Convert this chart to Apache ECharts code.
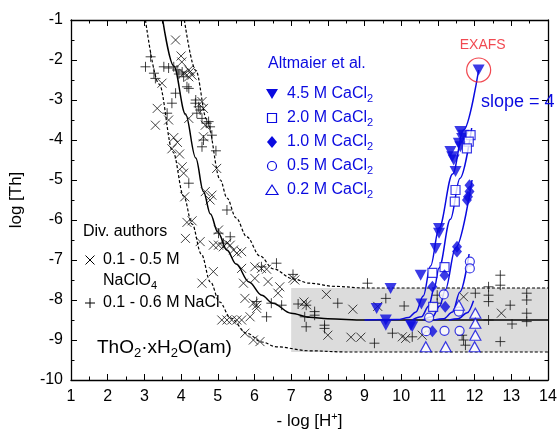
<!DOCTYPE html>
<html><head><meta charset="utf-8">
<script src="https://cdn.jsdelivr.net/npm/echarts@6/dist/echarts.min.js"></script>
<style>html,body{margin:0;padding:0;background:#fff}#c{width:560px;height:437px}</style>
</head><body><div id="c"></div>
<script>
// ---------- data ----------
const xRange = [1, 14];
const yRange = [-10, -1];
const bandX = [7, 14];
const bandY = [-9.3, -7.7];

// Div. authors, 0.1-0.5 M NaClO4 (x markers)
const naclo4 = [
[3.85,-1.5],[4.0,-1.9],[4.02,-2.05],[3.48,-2.58],[4.07,-2.33],[4.21,-2.25],[4.21,-2.42],[4.25,-2.29],[4.30,-2.38],
[3.35,-3.21],[3.30,-3.63],[3.66,-3.5],[4.21,-3.46],[4.57,-3.04],[4.61,-3.21],[4.66,-3.63],
[3.80,-3.94],[3.90,-4.06],[3.75,-4.22],[3.96,-4.35],[4.03,-4.67],[4.07,-4.83],[4.61,-3.92],[4.97,-4.71],
[4.10,-5.42],[4.66,-5.29],[4.84,-5.38],[4.79,-5.5],
[4.16,-6.06],[4.30,-6.02],[4.12,-6.46],[5.02,-6.25],[4.52,-6.54],[4.57,-7.58],[4.88,-7.29],
[4.88,-6.63],[5.02,-6.63],[5.15,-6.67],[5.25,-6.58],[5.34,-6.63],[5.43,-6.75],[5.52,-6.83],[5.65,-6.79],
[5.65,-7.21],[6.01,-7.17],[6.19,-7.21],[6.33,-7.23],
[5.70,-7.58],[6.01,-7.46],[6.37,-7.54],[6.69,-7.67],[6.64,-7.83],
[5.74,-7.96],[5.97,-8.08],[6.06,-8.13],[6.06,-8.21],[5.88,-8.42],
[5.11,-8.5],[5.25,-8.5],[5.38,-8.5],[5.52,-8.5],[5.65,-8.5],
[5.74,-8.83],[5.97,-9.0],[6.15,-9.04],
[7.05,-7.46],[7.10,-7.5],[7.35,-8.05],[7.42,-8.12],
[7.96,-7.86],[8.68,-8.23],[8.0,-8.88],[8.63,-8.93],[8.9,-8.93],[9.36,-8.16],[10.03,-8.92],[10.12,-8.96],[10.57,-8.88],[11.70,-7.92],[12.73,-8.33]
];
// Div. authors, 0.1-0.6 M NaCl (+ markers)
const nacl = [
[3.17,-1.92],[3.03,-2.17],[3.53,-2.17],[3.66,-2.2],[3.80,-2.17],[3.89,-2.25],[4.03,-2.3],[4.07,-2.42],[3.26,-2.33],[3.30,-2.46],[3.94,-2.35],[4.16,-2.67],[4.21,-2.71],[3.85,-2.83],[3.75,-3.08],[3.62,-3.33],
[4.39,-3.08],[4.48,-3.17],[4.52,-3.25],[4.43,-3.33],[4.40,-3.0],
[4.57,-3.46],[4.70,-3.58],[4.75,-3.54],[4.79,-3.67],[4.84,-3.88],
[4.61,-4.0],[4.57,-4.17],[4.95,-4.27],
[4.21,-5.08],[5.25,-5.75],[5.34,-6.42],[5.02,-6.33],[5.15,-6.58],
[6.19,-7.17],[6.6,-7.08],[6.06,-8.04],[6.46,-8.08],[6.74,-8.13],[7.05,-7.36],[6.33,-8.42],[7.19,-8.1],[7.41,-8.13],
[7.37,-8.42],[7.41,-8.67],[7.64,-8.29],[7.64,-8.38],[7.91,-8.63],[7.91,-8.71],
[9.08,-7.58],[8.27,-8.08],[9.27,-9.08],[9.58,-7.96],[9.76,-8.83],[10.08,-8.15],[10.3,-8.92],[10.98,-7.88],[10.98,-8.08],
[12.02,-7.83],[11.66,-8.88],[11.7,-9.0],[11.75,-9.13],[12.38,-7.67],[12.38,-7.88],[12.38,-8.04],[12.70,-7.38],[12.70,-7.63],
[12.38,-8.5],[12.97,-8.13],[13.02,-8.6],[12.70,-9.04],[13.42,-7.83],[13.42,-8.0],[13.42,-8.33],[13.42,-8.54]
];
// Altmaier et al.
const ca45 = [[12.11,-2.25],[11.61,-3.79],[11.70,-3.88],[11.66,-3.96],[11.57,-4.08],[11.61,-4.17],[11.34,-4.29],[11.39,-4.42],[11.43,-4.5],[11.48,-4.79],
[11.03,-6.21],[11.03,-6.33],[10.94,-6.71],[10.53,-7.38],[10.55,-8.1],[9.71,-7.71],[9.33,-8.21],[9.58,-8.5],[9.58,-8.63],[10.30,-8.67],[10.26,-8.63]];
const ca20 = [[11.89,-3.88],[11.84,-4.04],[11.79,-4.21],[11.48,-5.25],[11.46,-5.54],[11.18,-7.18],[10.85,-7.32],[10.87,-8.17]];
const ca10 = [[11.86,-5.13],[11.86,-5.29],[11.82,-5.42],[11.79,-5.5],[11.52,-6.67],[11.52,-6.79],[11.18,-7.38],[10.85,-7.67],[11.2,-8.17],[10.85,-8.78]];
const ca05 = [[11.87,-7.04],[11.87,-7.21],[11.16,-7.86],[10.76,-8.44],[10.68,-8.78],[11.18,-8.77],[11.57,-8.29],[11.59,-8.77]];
const ca02 = [[11.57,-8.13],[12.02,-8.33],[12.02,-8.58],[12.02,-8.88],[12.0,-9.17],[10.67,-9.17],[11.21,-9.17]];
const exafs = [[12.11,-2.25]];

// curves
const solidCurve = [[3.50,-1],[3.80,-2.15],[4.12,-3.35],[4.40,-4.45],[4.61,-5.29],[4.80,-5.85],[5.0,-6.3],[5.25,-6.75],[5.5,-7.1],[5.85,-7.55],[6.2,-7.88],[6.5,-8.08],[7.0,-8.33],[7.5,-8.43],[8,-8.47],[9,-8.5],[14,-8.5]];
const upperDashed = [[4.09,-1],[4.4,-2.26],[4.7,-3.49],[5.07,-5.0],[5.25,-5.45],[5.5,-5.95],[5.79,-6.42],[6.15,-6.9],[6.51,-7.22],[7.05,-7.47],[7.5,-7.58],[8.2,-7.66],[9,-7.7],[14,-7.7]];
const lowerDashed = [[3.03,-1],[3.4,-2.6],[3.78,-4.3],[4.07,-5.4],[4.3,-6.1],[4.55,-6.85],[4.8,-7.55],[5.05,-8.05],[5.35,-8.45],[5.79,-8.83],[6.2,-9.05],[6.6,-9.17],[7.5,-9.27],[8.5,-9.3],[14,-9.3]];
const fit45 = [[9.0,-8.5],[9.9,-8.49],[10.2,-8.44],[10.4,-8.3],[10.6,-7.9],[10.8,-7.15],[11.03,-6.2],[11.4,-4.85],[11.7,-3.75],[12.11,-2.25]];
const fit20 = [[10.3,-8.5],[10.55,-8.42],[10.75,-8.15],[10.9,-7.7],[11.03,-7.2],[11.34,-5.98],[11.6,-4.96],[11.92,-3.7]];
const fit10 = [[10.6,-8.5],[10.85,-8.42],[11.05,-8.15],[11.2,-7.75],[11.48,-6.7],[11.93,-5.0]];
const fit05 = [[10.9,-8.5],[11.15,-8.47],[11.4,-8.3],[11.6,-7.8],[11.85,-6.85]];
const fit02 = [[11.3,-8.5],[11.55,-8.47],[11.8,-8.32],[11.97,-8.02]];

const legendBlue = ['4.5', '2.0', '1.0', '0.5', '0.2'];

// ---------- styling ----------
const FF = '"Liberation Sans", Arial, sans-serif';
const BLUE = '#0a0ae0';
const RED = '#ee1c25';
const BLK = '#111';
const XSYM = 'path://M0,0L10,10M10,0L0,10';
const PSYM = 'path://M5,0L5,10M0,5L10,5';
const DTRI = 'path://M0,0L10,0L5,9Z';

function axisCommon(extra) {
  return Object.assign({
    type: 'value',
    axisLine: {show: true, onZero: false, lineStyle: {color: '#000', width: 1.3}},
    axisTick: {show: true, inside: true, length: 6, lineStyle: {color: '#000', width: 1}},
    minorTick: {show: true, splitNumber: 2, length: 3.5, lineStyle: {color: '#000', width: 1}},
    splitLine: {show: false},
    minorSplitLine: {show: false}
  }, extra);
}

function lineSeries(data, color, width, type, z) {
  return {type: 'line', data: data, showSymbol: false, symbol: 'none', smooth: 0.35, smoothMonotone: 'x',
    lineStyle: {color: color, width: width, type: type}, z: z, silent: true, animation: false};
}
function scatter(data, symbol, size, style, z) {
  return {type: 'scatter', data: data, symbol: symbol, symbolSize: size, itemStyle: style, z: z, silent: true, animation: false};
}

const subStyle = {fontSize: 11, fontFamily: FF, padding: [9, 0, 0, 0]};

function txt(x, y, text, size, color, rich) {
  return {type: 'text', x: x, y: y, silent: true, z: 100,
    style: {text: text, fill: color, fontSize: size, fontFamily: FF, verticalAlign: 'middle', align: 'left',
      rich: rich || {}}};
}

const graphics = [];
// blue legend
graphics.push(txt(268, 64, 'Altmaier et al.', 16, BLUE));
const rowsY = [94, 118, 142, 166, 190];
legendBlue.forEach((c, i) => {
  graphics.push(txt(287, rowsY[i], c + ' M CaCl{s|2}', 16, BLUE, {s: Object.assign({}, subStyle, {fill: BLUE})}));
});
graphics.push({type: 'polygon', silent: true, shape: {points: [[266, rowsY[0]-5], [278, rowsY[0]-5], [272, rowsY[0]+5]]}, style: {fill: BLUE}});
graphics.push({type: 'rect', silent: true, shape: {x: 267.5, y: rowsY[1]-4.5, width: 9, height: 9}, style: {fill: '#fff', stroke: BLUE, lineWidth: 1.2}});
graphics.push({type: 'polygon', silent: true, shape: {points: [[272, rowsY[2]-6], [277, rowsY[2]], [272, rowsY[2]+6], [267, rowsY[2]]]}, style: {fill: BLUE}});
graphics.push({type: 'circle', silent: true, shape: {cx: 272, cy: rowsY[3], r: 4.5}, style: {fill: '#fff', stroke: BLUE, lineWidth: 1.2}});
graphics.push({type: 'polygon', silent: true, shape: {points: [[272, rowsY[4]-5], [278, rowsY[4]+4.5], [266, rowsY[4]+4.5]]}, style: {fill: '#fff', stroke: BLUE, lineWidth: 1.2}});
// black legend
graphics.push(txt(83, 232, 'Div. authors', 16, '#000'));
graphics.push({type: 'line', silent: true, shape: {x1: 85.5, y1: 255.5, x2: 94.5, y2: 264.5}, style: {stroke: '#000', lineWidth: 1}});
graphics.push({type: 'line', silent: true, shape: {x1: 94.5, y1: 255.5, x2: 85.5, y2: 264.5}, style: {stroke: '#000', lineWidth: 1}});
graphics.push(txt(103, 260, '0.1 - 0.5 M', 16, '#000'));
graphics.push(txt(103, 281, 'NaClO{s|4}', 16, '#000', {s: subStyle}));
graphics.push({type: 'line', silent: true, shape: {x1: 85, y1: 303, x2: 95, y2: 303}, style: {stroke: '#000', lineWidth: 1}});
graphics.push({type: 'line', silent: true, shape: {x1: 90, y1: 298, x2: 90, y2: 308}, style: {stroke: '#000', lineWidth: 1}});
graphics.push(txt(103, 303, '0.1 - 0.6 M NaCl', 16, '#000'));
graphics.push(txt(97, 348, 'ThO{s|2}·xH{s|2}O(am)', 19, '#000', {s: {fontSize: 13, fontFamily: FF, padding: [10, 0, 0, 0]}}));
graphics.push(txt(481, 102, 'slope = 4', 18, BLUE));

const chart = echarts.init(document.getElementById('c'), null, {renderer: 'canvas'});
chart.setOption({
  animation: false,
  backgroundColor: '#fff',
  grid: {left: 70, right: 12, top: 20, bottom: 57, containLabel: false},
  xAxis: [
    axisCommon({min: xRange[0], max: xRange[1], interval: 1, position: 'bottom',
      axisLabel: {color: '#000', fontSize: 16, fontFamily: FF, margin: 9},
      name: '- log [H{sup|+}]', nameLocation: 'middle', nameGap: 31,
      nameTextStyle: {color: '#000', fontSize: 17, fontFamily: FF,
        rich: {sup: {fontSize: 11, fontFamily: FF, padding: [0, 0, 9, 0]}}}}),
    axisCommon({min: xRange[0], max: xRange[1], interval: 1, position: 'top', axisLabel: {show: false}})
  ],
  yAxis: [
    axisCommon({min: yRange[0], max: yRange[1], interval: 1, position: 'left',
      axisLabel: {color: '#000', fontSize: 16, fontFamily: FF, margin: 8},
      name: 'log [Th]', nameLocation: 'middle', nameGap: 46, nameRotate: 90,
      nameTextStyle: {color: '#000', fontSize: 17, fontFamily: FF}}),
    axisCommon({min: yRange[0], max: yRange[1], interval: 1, position: 'right', axisLabel: {show: false}})
  ],
  graphic: graphics,
  series: [
    {type: 'line', data: [], z: 1, silent: true,
      markArea: {silent: true, itemStyle: {color: '#dcdcdc'},
        data: [[{coord: [bandX[0], bandY[1]]}, {coord: [bandX[1], bandY[0]]}]]}},
    lineSeries(solidCurve, '#000', 1.5, 'solid', 3),
    lineSeries(upperDashed, '#000', 1.2, [3, 2], 3),
    lineSeries(lowerDashed, '#000', 1.2, [3, 2], 3),
    scatter(naclo4, XSYM, 9, {color: 'rgba(0,0,0,0)', borderColor: BLK, borderWidth: 1}, 4),
    scatter(nacl, PSYM, 10, {color: 'rgba(0,0,0,0)', borderColor: BLK, borderWidth: 1}, 4),
    lineSeries(fit45, BLUE, 1.5, 'solid', 5),
    lineSeries(fit20, BLUE, 1.5, 'solid', 5),
    lineSeries(fit10, BLUE, 1.5, 'solid', 5),
    lineSeries(fit05, BLUE, 1.5, 'solid', 5),
    lineSeries(fit02, BLUE, 1.5, 'solid', 5),
    scatter(ca45, DTRI, [12, 11], {color: BLUE}, 6),
    scatter(ca20, 'rect', 9, {color: '#fff', borderColor: BLUE, borderWidth: 1.2}, 6),
    scatter(ca10, 'diamond', [10, 12], {color: BLUE}, 6),
    scatter(ca05, 'circle', 9, {color: '#fff', borderColor: BLUE, borderWidth: 1.2}, 6),
    scatter(ca02, 'triangle', [11, 10], {color: '#fff', borderColor: BLUE, borderWidth: 1.2}, 6),
    {type: 'scatter', data: exafs, symbol: 'circle', symbolSize: 24, z: 7, silent: true,
      itemStyle: {color: 'rgba(0,0,0,0)', borderColor: RED, borderWidth: 1.2},
      label: {show: true, position: 'top', distance: 5, offset: [4, 0], formatter: 'EXAFS', color: RED, fontSize: 14, fontFamily: FF}}
  ]
});
</script>
</body></html>
